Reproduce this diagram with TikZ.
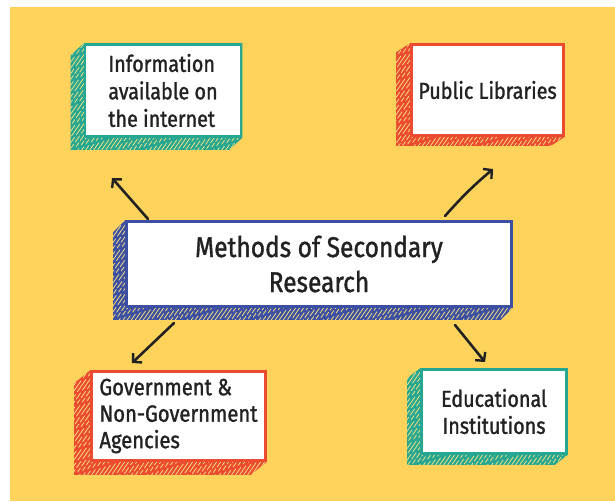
\documentclass[tikz,border=0pt]{standalone}
\usepackage{fontspec}
\setmainfont{Fira Sans}[FakeStretch=0.86,FakeBold=1.3]
\usetikzlibrary{arrows.meta,backgrounds}

\definecolor{bgyellow}{HTML}{FDD35C}
\definecolor{tealc}{HTML}{26A793}
\definecolor{redc}{HTML}{EB4B30}
\definecolor{bluec}{HTML}{3C4FA3}
\definecolor{hatchc}{HTML}{F7E27C}
\definecolor{ink}{HTML}{222222}

\tikzset{
  face/.style={draw=#1, line width=2.6pt, fill=white, text=ink, inner sep=0pt},
  hatch/.style={draw=hatchc, line width=0.75pt},
  pointer/.style={draw=ink, line width=2.6pt, line cap=round, line join=round,
    -{Straight Barb[length=6pt,width=13pt,line width=2.4pt]}}
}

% extruded side of a slab: node name, colour, left shift, down shift
\newcommand\slab[4]{%
  \begin{scope}[on background layer]
    \fill[#2] (#1.north west) -- ++(-#3,#4) -- ([shift={(-#3,#4)}]#1.south west)
      -- ([shift={(-#3,#4)}]#1.south east) -- (#1.south east) -- (#1.north east) -- cycle;
    \begin{scope}
      \clip (#1.north west) -- ++(-#3,#4) -- ([shift={(-#3,#4)}]#1.south west)
        -- ([shift={(-#3,#4)}]#1.south east) -- (#1.south east) -- cycle;
      \foreach \k in {0,4,...,560} {
        \pgfmathsetmacro\ph{mod(\k*7.3,31)}
        \draw[hatch, dash pattern=on 8pt off 3pt on 15pt off 4pt on 5pt off 2pt, dash phase=\ph pt]
          ([shift={(\k-110,18)}]#1.south west) -- ++(100,-144);
      }
    \end{scope}
  \end{scope}}

\begin{document}
\begin{tikzpicture}[x=1pt,y=-1pt]
\useasboundingbox (0,0) rectangle (615,501);
\begin{scope}[on background layer]
  \fill[bgyellow] (10,7) rectangle (615,501);
\end{scope}

% front faces
\node[face=tealc, minimum width=156pt, minimum height=92pt, align=left,
  font=\fontsize{23}{27.5}\selectfont] (info) at (163,90.5)
  {Information\\available on\\the internet};
\node[face=redc, minimum width=152pt, minimum height=91pt, align=center,
  font=\fontsize{23}{24}\selectfont] (lib) at (487.5,90) {Public Libraries};
\node[face=bluec, minimum width=385pt, minimum height=85pt, align=center,
  font=\fontsize{28.5}{35}\selectfont] (main) at (319,264)
  {Methods of Secondary\\Research};
\node[face=redc, minimum width=174pt, minimum height=89pt, align=left,
  font=\fontsize{23.5}{26.5}\selectfont] (gov) at (178.5,416)
  {Government \&\\Non-Government\\Agencies};
\node[face=tealc, minimum width=145pt, minimum height=84pt, align=center,
  font=\fontsize{23}{27}\selectfont] (edu) at (494,411.5)
  {Educational\\Institutions};

% extruded sides
\slab{info}{tealc}{13}{12}
\slab{lib}{redc}{14}{9}
\slab{main}{bluec}{12}{12}
\slab{gov}{redc}{16}{13}
\slab{edu}{tealc}{13}{10}

% connectors
\coordinate (s1) at (148,219);
\coordinate (e1) at (112,178);
\coordinate (s2) at (445,216);
\coordinate (e2) at (493,169);
\coordinate (s3) at (174,323);
\coordinate (e3) at (132,363);
\coordinate (s4) at (455,325);
\coordinate (e4) at (485,362);
\draw[pointer] (s1) -- (e1);
\draw[pointer] (s2) to[bend left=4] (e2);
\draw[pointer] (s3) -- (e3);
\draw[pointer] (s4) -- (e4);
\end{tikzpicture}
\end{document}
